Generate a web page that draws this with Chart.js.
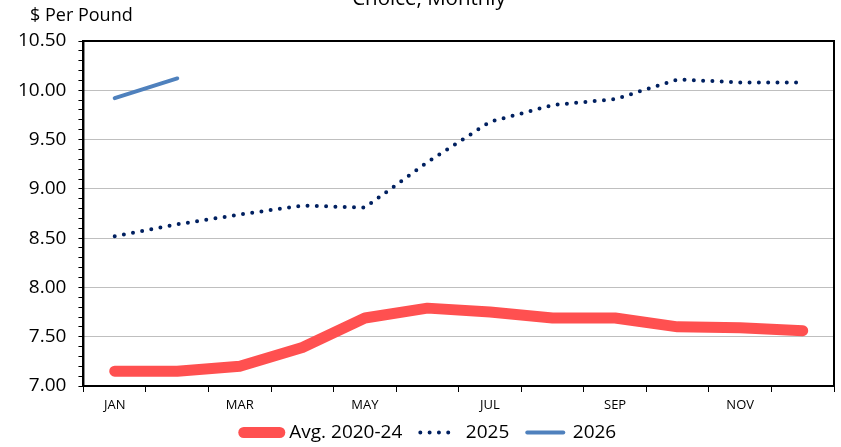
<!DOCTYPE html>
<html>
<head>
<meta charset="utf-8">
<script src="https://cdn.jsdelivr.net/npm/chart.js@4"></script>
<style>
  html, body { margin: 0; padding: 0; background: #fff; }
  #wrap { position: relative; width: 841px; height: 447px; }
</style>
</head>
<body>
<div id="wrap"><canvas id="chart" width="841" height="447"></canvas></div>
<script>
// Data
const months = ['JAN', 'FEB', 'MAR', 'APR', 'MAY', 'JUN', 'JUL', 'AUG', 'SEP', 'OCT', 'NOV', 'DEC'];
const avg2020to24 = [7.15, 7.15, 7.20, 7.39, 7.69, 7.79, 7.75, 7.69, 7.69, 7.60, 7.59, 7.56];
const y2025 = [8.52, 8.64, 8.74, 8.83, 8.81, 9.27, 9.68, 9.85, 9.91, 10.11, 10.08, 10.08];
const y2026 = [9.92, 10.12, null, null, null, null, null, null, null, null, null, null];

const FONT = '"Open Sans", "Liberation Sans", sans-serif';
const isMajor = v => Math.abs(v * 2 - Math.round(v * 2)) < 1e-6;

// Title (cut off at top) and axis caption
const textPlugin = {
  id: 'extraText',
  afterDraw(chart) {
    const c = chart.ctx;
    c.save();
    c.fillStyle = '#000';
    c.font = `20.5px ${FONT}`;
    c.textAlign = 'center';
    c.textBaseline = 'alphabetic';
    c.fillText('Choice, Monthly', 429, 5);
    c.font = `18px ${FONT}`;
    c.textAlign = 'left';
    c.textBaseline = 'middle';
    c.fillText('$ Per Pound', 30, 16);
    c.restore();
  }
};

// Plot area border
const borderPlugin = {
  id: 'plotBorder',
  beforeDatasetsDraw(chart) {
    const { left, top, right, bottom } = chart.chartArea;
    const c = chart.ctx;
    c.save();
    c.strokeStyle = '#000';
    c.lineWidth = 2;
    c.strokeRect(left, top, right - left, bottom - top);
    c.restore();
  }
};

// Tighter legend box, items nudged right and up (inside the legend's clip)
const legendFitPlugin = {
  id: 'legendFit',
  beforeInit(chart) {
    const legend = chart.legend;
    const fit = legend.fit;
    legend.fit = function () {
      fit.call(this);
      this.height = 34;
    };
    const drawItems = legend._draw;
    legend._draw = function () {
      const c = this.ctx;
      c.save();
      c.translate(10, -8);
      drawItems.call(this);
      c.restore();
    };
  }
};

new Chart(document.getElementById('chart'), {
  type: 'line',
  data: {
    labels: months,
    datasets: [
      {
        label: 'Avg. 2020-24',
        data: avg2020to24,
        borderColor: '#FF5050',
        backgroundColor: '#FF5050',
        borderWidth: 11,
        borderCapStyle: 'round',
        borderJoinStyle: 'round',
        pointRadius: 0,
        tension: 0,
      },
      {
        label: '2025',
        data: y2025,
        borderColor: '#002060',
        backgroundColor: '#002060',
        borderWidth: 4,
        borderDash: [0, 9.3],
        borderCapStyle: 'round',
        borderJoinStyle: 'round',
        pointRadius: 0,
        tension: 0,
      },
      {
        label: '2026',
        data: y2026,
        borderColor: '#4F81BD',
        backgroundColor: '#4F81BD',
        borderWidth: 4,
        borderCapStyle: 'round',
        pointRadius: 0,
        tension: 0,
        spanGaps: false,
      }
    ]
  },
  options: {
    responsive: false,
    animation: false,
    devicePixelRatio: 1,
    layout: { padding: { top: 41, right: 7, left: 6, bottom: 0 } },
    plugins: {
      legend: {
        position: 'bottom',
        labels: {
          usePointStyle: true,
          pointStyle: 'line',
          pointStyleWidth: 36,
          boxHeight: 8,
          padding: 18,
          color: '#000',
          font: { family: FONT, size: 19 },
          // keep the dotted style and round caps in the legend
          generateLabels: chart =>
            Chart.defaults.plugins.legend.labels.generateLabels(chart).map((item, i) => ({
              ...item,
              lineWidth: chart.data.datasets[i].borderWidth,
              lineDash: chart.data.datasets[i].borderDash || [],
              lineCap: 'round',
            }))
        }
      },
      tooltip: { enabled: false }
    },
    scales: {
      x: {
        offset: true,
        border: { color: '#000', width: 2 },
        grid: {
          offset: true,
          drawOnChartArea: false,
          tickLength: 6,
          tickColor: '#000',
        },
        ticks: {
          autoSkip: false,
          maxRotation: 0,
          padding: 5,
          color: '#000',
          font: { family: FONT, size: 13 },
          callback: (v, i) => (i % 2 === 0 ? months[i] : '')
        },
        afterFit: scale => { scale.height = 27; }
      },
      y: {
        min: 7,
        max: 10.5,
        border: { color: '#000', width: 2 },
        grid: {
          color: ctx => (isMajor(ctx.tick.value) ? '#BFBFBF' : 'rgba(0,0,0,0)'),
          tickColor: '#000',
          tickLength: 5,
        },
        ticks: {
          stepSize: 0.1,
          autoSkip: false,
          padding: 12,
          color: '#000',
          font: { family: FONT, size: 19 },
          callback: v => (isMajor(v) ? v.toFixed(2) : '')
        }
      }
    }
  },
  plugins: [textPlugin, borderPlugin, legendFitPlugin]
});
</script>
</body>
</html>
